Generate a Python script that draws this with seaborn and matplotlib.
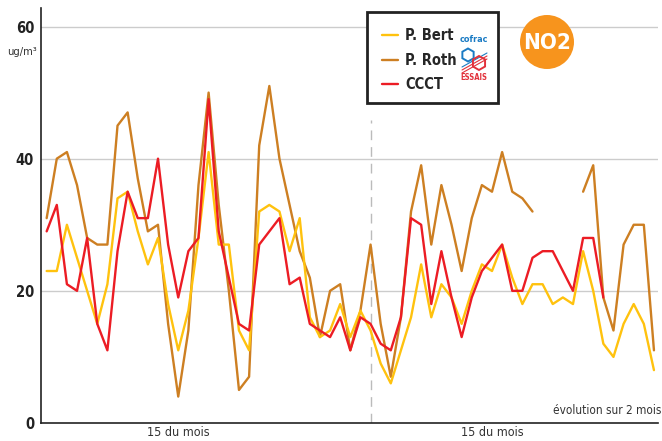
import numpy as np
import pandas as pd
import matplotlib.pyplot as plt
import matplotlib.patches as mpatches
from matplotlib.lines import Line2D
import seaborn as sns

nan = np.nan

# NO2 journalier sur 2 mois (ug/m3), 61 jours
jours = list(range(61))
p_bert = [23, 23, 30, 25, 20, 15, 21, 34, 35, 29, 24, 28, 18, 11, 17, 28, 41, 27, 27, 14,
          11, 32, 33, 32, 26, 31, 16, 13, 14, 18, 13, 17, 14, 9, 6, 11, 16, 24, 16, 21,
          19, 15, 20, 24, 23, 27, 22, 18, 21, 21, 18, 19, 18, 26, 20, 12, 10, 15, 18, 15, 8]
p_roth = [31, 40, 41, 36, 28, 27, 27, 45, 47, 37, 29, 30, 15, 4, 14, 36, 50, 33, 20, 5,
          7, 42, 51, 40, 33, 26, 22, 13, 20, 21, 11, 17, 27, 15, 7, 16, 32, 39, 27, 36,
          30, 23, 31, 36, 35, 41, 35, 34, 32, nan, nan, nan, nan, 35, 39, 19, 14, 27, 30, 30, 11]
ccct = [29, 33, 21, 20, 28, 15, 11, 26, 35, 31, 31, 40, 27, 19, 26, 28, 49, 29, 22, 15,
        14, 27, 29, 31, 21, 22, 15, 14, 13, 16, 11, 16, 15, 12, 11, 16, 31, 30, 18, 26,
        19, 13, 19, 23, 25, 27, 20, 20, 25, 26, 26, 23, 20, 28, 28, 19, nan, nan, nan, nan, nan]

series = ["P. Bert", "P. Roth", "CCCT"]
couleurs = {"P. Bert": "#FFC20E", "P. Roth": "#CD7F22", "CCCT": "#EC1C24"}
tick_pos = [13, 44]
tick_labels = ["15 du mois", "15 du mois"]
debut_mois = 32
y_ticks = [0, 20, 40, 60]

df = pd.DataFrame({"jour": jours, "P. Bert": p_bert, "P. Roth": p_roth, "CCCT": ccct})

sns.set_theme(style="white")
plt.rcParams['font.family'] = ['DejaVu Sans']
plt.rcParams['font.stretch'] = 'condensed'

fig = plt.figure(figsize=(6.62, 4.41), dpi=100)
ax = fig.add_axes([41 / 662, 18 / 441, 617 / 662, 415 / 441])

# grille horizontale
for v in y_ticks[1:]:
    ax.axhline(v, color="#cccccc", lw=1.0, zorder=0)
ax.axvline(debut_mois, ymax=0.73, color="#bbbbbb", lw=1.0, ls=(0, (7, 5)), zorder=0)

# courbes (les trous = pas de mesure)
for nom in ["P. Roth", "P. Bert", "CCCT"]:
    s = df[["jour", nom]].copy()
    s["seg"] = s[nom].isna().cumsum()
    s = s.dropna()
    sns.lineplot(data=s, x="jour", y=nom, units="seg", estimator=None, sort=False,
                 color=couleurs[nom], lw=1.7, ax=ax, legend=False)

ax.set_xlim(-0.56, 60.4)
ax.set_ylim(0, 62.8)
ax.set_xlabel("")
ax.set_ylabel("")
ax.set_yticks(y_ticks)
ax.set_yticklabels([str(v) for v in y_ticks], fontweight="bold", fontsize=10.5, color="#222222")
ax.set_xticks(tick_pos)
ax.set_xticklabels(tick_labels, fontsize=9, color="#333333")
ax.tick_params(axis="y", length=0, pad=5)
ax.tick_params(axis="x", direction="in", length=6, width=1.2, color="#333333", pad=2)
sns.despine(ax=ax)
ax.spines["left"].set_color("#222222")
ax.spines["bottom"].set_color("#222222")
ax.spines["left"].set_linewidth(1.2)
ax.spines["bottom"].set_linewidth(1.2)

fig.text(7 / 662, 1 - 52 / 441, "ug/m³", fontsize=8, color="#333333", va="center")
fig.text(0.999, 1 - 411 / 441, "évolution sur 2 mois", fontsize=8.5, color="#333333",
         ha="right", va="center")

# cadre de la légende
box = mpatches.Rectangle((3.67, 3.38), 1.31, 0.91, transform=fig.dpi_scale_trans,
                         facecolor="white", edgecolor="#222222", lw=2, zorder=3)
fig.patches.append(box)
handles = [Line2D([0], [0], color=couleurs[n], lw=1.7) for n in series]
fig.legend(handles, series, loc="upper left", bbox_to_anchor=(369 / 662, 1 - 15 / 441),
           frameon=False, handlelength=1.1, handletextpad=0.5, labelspacing=0.65,
           prop={"weight": "bold", "size": 10.5, "stretch": "condensed"})

# logo cofrac (approx.)
fig.text(474 / 662, 1 - 40 / 441, "cofrac", fontsize=6.5, color="#1a7bc4", fontweight="bold",
         ha="center", va="center", zorder=6)
hex_b = mpatches.RegularPolygon((4.68, 4.41 - 0.55), 6, radius=0.065, transform=fig.dpi_scale_trans,
                                facecolor="none", edgecolor="#1a7bc4", lw=1.4, zorder=6)
hex_r = mpatches.RegularPolygon((4.79, 4.41 - 0.63), 6, radius=0.07, transform=fig.dpi_scale_trans,
                                facecolor="none", edgecolor="#e2313b", lw=1.4, zorder=6)
fig.patches.extend([hex_b, hex_r])
for k in range(3):
    fig.lines.append(Line2D([4.62, 4.87], [4.41 - 0.67 - k * 0.03, 4.41 - 0.53 - k * 0.03],
                            transform=fig.dpi_scale_trans, color="#e2313b" if k else "#1a7bc4",
                            lw=0.8, zorder=5))
fig.text(474 / 662, 1 - 78 / 441, "ESSAIS", fontsize=5.5, color="#e2313b", fontweight="bold",
         ha="center", va="center", zorder=6)

# pastille NO2
rond = mpatches.Circle((5.47, 4.41 - 0.42), 0.27, transform=fig.dpi_scale_trans,
                       facecolor="#F7941D", edgecolor="none", zorder=3)
fig.patches.append(rond)
fig.text(547 / 662, 1 - 43 / 441, "NO2", fontsize=16, color="white", fontweight="bold",
         ha="center", va="center", zorder=6)

plt.savefig("out.png", dpi=100)
plt.close()
